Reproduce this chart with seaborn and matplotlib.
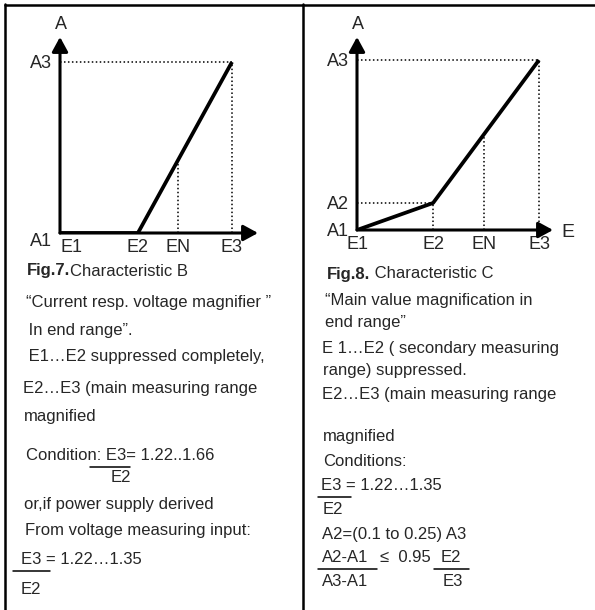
"""
Characteristic B and C sheet (Fig.7 / Fig.8) redrawn with seaborn.
"""

import matplotlib
matplotlib.use("Agg")
import matplotlib.pyplot as plt
import seaborn as sns
import numpy as np
from matplotlib.lines import Line2D

W, H = 595, 610

# Fig.7 - characteristic B (E normalised to E3 = 1, A to A3 = 1)
b_e = [0.0, 0.453, 1.0]
b_a = [0.0, 0.0, 1.0]
b_en = 0.686
b_xlabels = ["E1", "E2", "EN", "E3"]
b_ylabels = ["A1", "A3"]

# Fig.8 - characteristic C
c_e = [0.0, 0.418, 1.0]
c_a = [0.0, 0.159, 1.0]
c_en = 0.698
c_xlabels = ["E1", "E2", "EN", "E3"]
c_ylabels = ["A1", "A2", "A3"]

b_title = ("Fig.7.", "Characteristic B")
c_title = ("Fig.8.", " Characteristic C")

b_lines = ["\u201cCurrent resp. voltage magnifier \u201d",
           " In end range\u201d.",
           " E1\u2026E2 suppressed completely,",
           "E2\u2026E3 (main measuring range",
           "magnified",
           "Condition: E3= 1.22..1.66",
           "E2",
           "or,if power supply derived",
           "From voltage measuring input:",
           "E3 = 1.22\u20261.35",
           "E2"]
c_lines = ["\u201cMain value magnification in",
           "end range\u201d",
           "E 1\u2026E2 ( secondary measuring",
           "range) suppressed.",
           "E2\u2026E3 (main measuring range",
           "magnified",
           "Conditions:",
           "E3 = 1.22\u20261.35",
           "E2",
           "A2=(0.1 to 0.25) A3",
           "A2-A1",
           "\u2264  0.95",
           "E2",
           "A3-A1",
           "E3"]

# layout (pixels)
b_pos = [(26, 302), (24, 330), (24, 357), (23, 388), (24, 416), (26, 455),
         (111, 478), (24, 504), (25, 531), (21, 560), (21, 589)]
b_rules = [(90, 130, 467), (13, 50, 571)]
c_pos = [(325, 300), (325, 323), (322, 348), (323, 371), (322, 394), (323, 436),
         (323, 462), (321, 486), (323, 510), (322, 535), (322, 557), (380, 557),
         (441, 557), (322, 582), (443, 582)]
c_rules = [(318, 351, 497), (318, 377, 569), (434, 469, 569)]

FS = 12
TFS = 13
DOT = (0, (1, 1.6))

sns.set_theme(style="white")
plt.rcParams["font.family"] = ["Liberation Sans Narrow", "Liberation Sans", "DejaVu Sans"]

fig = plt.figure(figsize=(W / 100, H / 100), dpi=100)
fig.patch.set_facecolor("white")


def fx(x):
    return x / W


def fy(y):
    return 1 - y / H


def px_axes(x0, y0, x1, y1):
    ax = fig.add_axes([fx(x0), fy(y1), (x1 - x0) / W, (y1 - y0) / H])
    ax.patch.set_alpha(0)
    for s in ax.spines.values():
        s.set_visible(False)
    return ax


def characteristic(ax, e, a, en, xlabels, ylabels, xmax, ymax, e_label):
    sns.lineplot(x=e, y=a, ax=ax, color="black", lw=2.7, estimator=None,
                 sort=False, solid_capstyle="butt")
    ax.set_xlim(0, xmax)
    ax.set_ylim(0, ymax)
    ax.set_xlabel("")
    ax.set_ylabel("")
    arrow = dict(arrowstyle="-|>,head_length=0.55,head_width=0.3", color="black",
                 lw=2.2, mutation_scale=16, shrinkA=0, shrinkB=0)
    ax.annotate("", xy=(xmax, 0), xytext=(0, 0), arrowprops=arrow,
                annotation_clip=False)
    ax.annotate("", xy=(0, ymax), xytext=(0, 0), arrowprops=arrow,
                annotation_clip=False)
    # dotted guides
    a_en = np.interp(en, e, a)
    ax.plot([0, e[-1]], [a[-1], a[-1]], ls=DOT, lw=1.1, color="black")
    ax.plot([e[-1], e[-1]], [0, a[-1]], ls=DOT, lw=1.1, color="black")
    ax.plot([en, en], [0, a_en], ls=DOT, lw=1.1, color="black")
    if a[1] > 0:
        ax.plot([0, e[1]], [a[1], a[1]], ls=DOT, lw=1.1, color="black")
        ax.plot([e[1], e[1]], [0, a[1]], ls=DOT, lw=1.1, color="black")
    ax.set_xticks([e[0], e[1], en, e[-1]], xlabels)
    ax.set_yticks(sorted(set(a)), ylabels)
    ax.tick_params(length=0, labelsize=TFS, pad=4.5)
    ax.tick_params(axis="y", pad=6)
    ax.annotate("A", xy=(0, ymax), xytext=(1, 9), textcoords="offset points",
                ha="center", va="center", fontsize=TFS, annotation_clip=False)
    if e_label:
        ax.annotate("E", xy=(xmax, 0), xytext=(6, -2), textcoords="offset points",
                    ha="left", va="center", fontsize=TFS + 1,
                    annotation_clip=False)


ax_b = px_axes(60, 37, 258, 233)
characteristic(ax_b, b_e, b_a, b_en, b_xlabels, b_ylabels,
               198 / 172, 196 / 171, False)
ax_b.get_xticklabels()[0].set_ha("left")
ax_b.get_yticklabels()[0].set_va("top")

ax_c = px_axes(357, 37, 553, 230)
characteristic(ax_c, c_e, c_a, c_en, c_xlabels, c_ylabels,
               196 / 182, 193 / 170, True)

# table rules
for seg in [((5, 595), (5, 5)), ((5, 5), (4, 610)), ((303, 303), (4, 610))]:
    fig.add_artist(Line2D([fx(v) for v in seg[0]], [fy(v) for v in seg[1]],
                          transform=fig.transFigure, color="black", lw=1.8))

# captions with bold figure numbers
fig.canvas.draw()
renderer = fig.canvas.get_renderer()
for (bold, rest), (x, y) in [(b_title, (27, 271)), (c_title, (327, 274))]:
    t = fig.text(fx(x), fy(y), bold, fontsize=FS, weight="bold",
                 va="center", ha="left")
    x1 = t.get_window_extent(renderer).x1
    fig.text(x1 / W, fy(y), rest, fontsize=FS, va="center", ha="left")

for lines, pos in [(b_lines, b_pos), (c_lines, c_pos)]:
    for s, (x, y) in zip(lines, pos):
        fig.text(fx(x), fy(y), s, fontsize=FS, va="center", ha="left")

for x0, x1, y in b_rules + c_rules:
    fig.add_artist(Line2D([fx(x0), fx(x1)], [fy(y), fy(y)],
                          transform=fig.transFigure, color="black", lw=1.1))

fig.savefig("out.png", dpi=100, facecolor="white")
